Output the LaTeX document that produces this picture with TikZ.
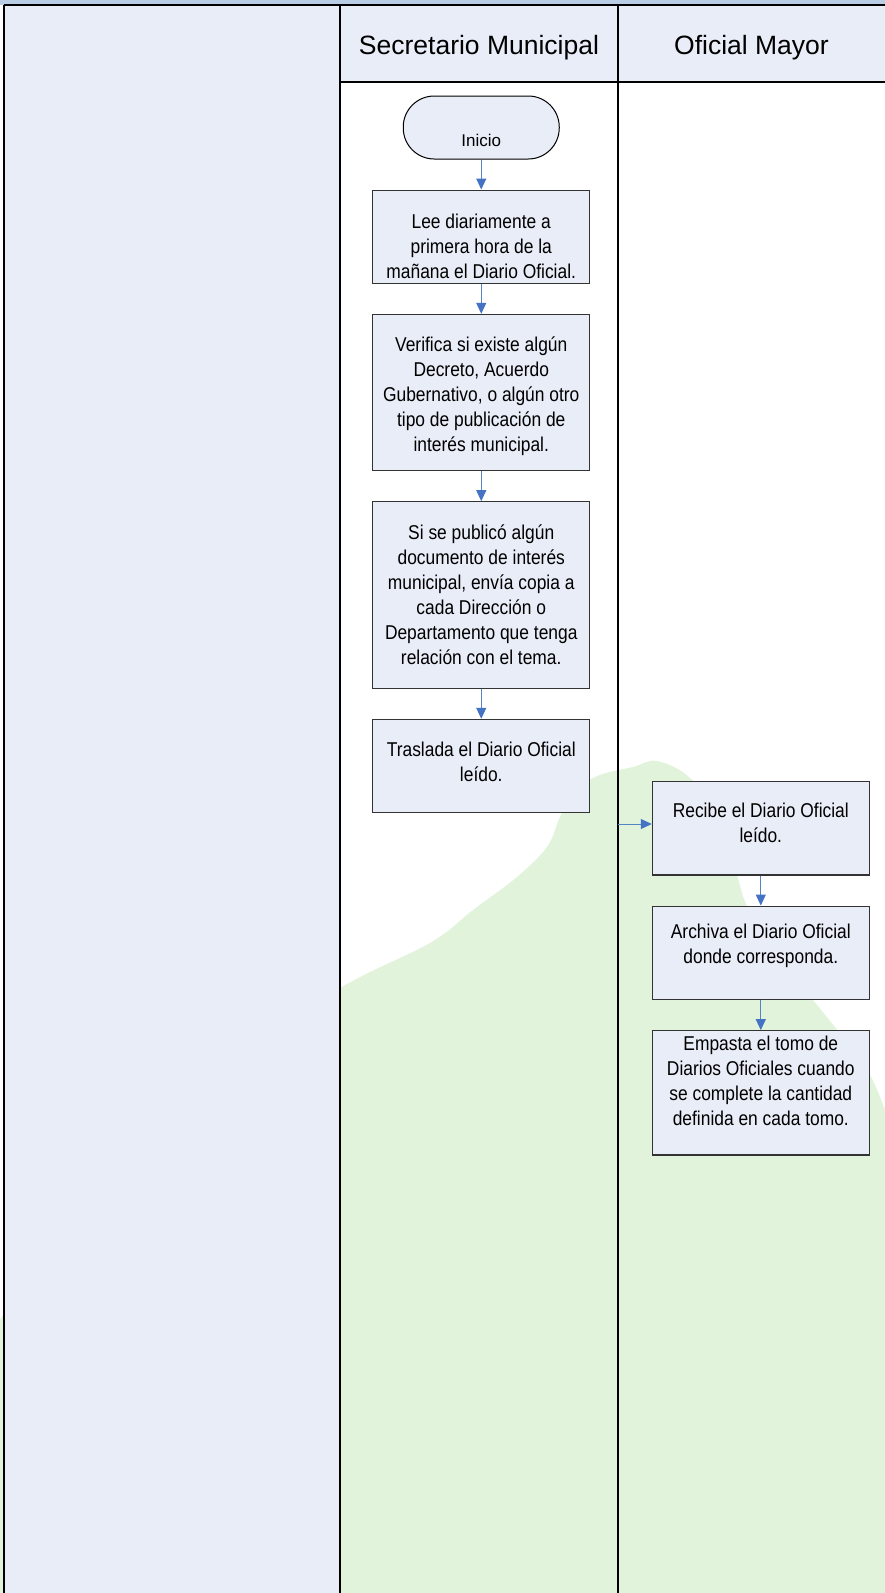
\documentclass[tikz,border=0pt]{standalone}
\usepackage{fontspec}
\setmainfont{Liberation Sans}
\newfontfamily\boxfont[FakeStretch=0.87]{Liberation Sans}
\usetikzlibrary{arrows.meta}
\definecolor{lav}{HTML}{E9EDF7}
\definecolor{band}{HTML}{B9CDE5}
\definecolor{blob}{HTML}{E1F3DA}
\definecolor{connblue}{HTML}{5584C4}
\definecolor{headblue}{HTML}{4472C4}
\definecolor{boxline}{HTML}{333333}
\begin{document}
\begin{tikzpicture}[x=1pt,y=-1pt,
  boxnode/.style={draw=boxline, line width=1.1pt, fill=lav, minimum width=217pt, inner sep=0pt},
  boxtext/.style={font=\boxfont\fontsize{20}{25}\selectfont, align=center, inner sep=0pt, text=black},
  conn/.style={draw=connblue, line width=1pt, -{Triangle[length=11pt,width=10pt,color=headblue,fill=headblue]}},
  laneline/.style={draw=black, line width=1.4pt},
  headtext/.style={font=\fontsize{26.5}{30}\selectfont, inner sep=0pt}]
\useasboundingbox (0,0) rectangle (885,1593);
% background
\fill[white] (0,0) rectangle (885,1593);
\fill[blob] plot[smooth, tension=0.6] coordinates {(0,1320) (80,1200) (200,1075) (340,988) (430,943) (473,910) (517,877) (547,847) (560,817) (575,790) (600,775) (633,767) (657,761) (690,778) (720,820) (737,875) (748,908) (780,960) (813,1000) (845,1040) (870,1075) (885,1110)} -- (885,1593) -- (0,1593) -- cycle;
\fill[lav] (4,5) rectangle (340,1593);
\fill[lav] (340,5) rectangle (885,82);
\fill[band] (0,0) rectangle (885,5);
% lines
\draw[laneline] (4,5) -- (885,5);
\draw[laneline] (4,5) -- (4,1593);
\draw[laneline] (340,5) -- (340,1593);
\draw[laneline] (618,5) -- (618,1593);
\draw[laneline] (340,82) -- (885,82);
% headers
\node[headtext] (h1) at (479,48) {Secretario Municipal};
\node[headtext] (h2) at (751.5,48) {Oficial Mayor};
% start
\node[draw=black, line width=1pt, fill=lav, rounded corners=31pt, minimum width=156pt, minimum height=63pt, inner sep=0pt] (start) at (481.25,127.5) {};
\node[font=\fontsize{17}{20}\selectfont, inner sep=0pt] (starttext) at (481.25,140) {Inicio};
% Secretario boxes
\node[boxnode, minimum height=93.3pt] (b1) at (481.25,236.7) {};
\node[boxtext] (b1t) at (481.25,246) {Lee diariamente a\\primera hora de la\\mañana el Diario Oficial.};
\node[boxnode, minimum height=155.7pt] (b2) at (481.25,392.2) {};
\node[boxtext] (b2t) at (481.25,396) {Verifica si existe algún\\Decreto, Acuerdo\\Gubernativo, o algún otro\\tipo de publicación de\\interés municipal.};
\node[boxnode, minimum height=186.6pt] (b3) at (481.25,595) {};
\node[boxtext] (b3t) at (481.25,594.5) {Si se publicó algún\\documento de interés\\municipal, envía copia a\\cada Dirección o\\Departamento que tenga\\relación con el tema.};
\node[boxnode, minimum height=93.4pt] (b4) at (481.25,766) {};
\node[boxtext] (b4t) at (481.25,762) {Traslada el Diario Oficial\\leído.};
% Oficial Mayor boxes
\node[boxnode, minimum height=93.3pt] (b5) at (760.8,828.3) {};
\node[boxtext] (b5t) at (760.8,823) {Recibe el Diario Oficial\\leído.};
\node[boxnode, minimum height=93.3pt] (b6) at (760.8,952.7) {};
\node[boxtext] (b6t) at (760.8,946) {Archiva el Diario Oficial\\donde corresponda.};
\node[boxnode, minimum height=124.3pt] (b7) at (760.8,1092.8) {};
\node[boxtext] (b7t) at (760.8,1081) {Empasta el tomo de\\Diarios Oficiales cuando\\se complete la cantidad\\definida en cada tomo.};
% connectors
\draw[conn] (start.south) -- (b1.north);
\draw[conn] (b1.south) -- (b2.north);
\draw[conn] (b2.south) -- (b3.north);
\draw[conn] (b3.south) -- (b4.north);
\coordinate (tr) at (618,824);
\draw[conn] (tr) -- (tr -| b5.west);
\draw[conn] (b5.south) -- (b6.north);
\draw[conn] (b6.south) -- (b7.north);
\end{tikzpicture}
\end{document}
